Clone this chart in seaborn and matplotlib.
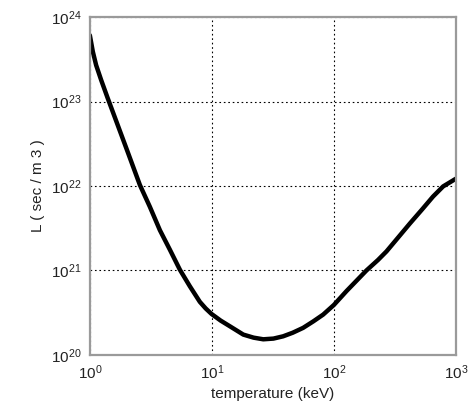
import matplotlib
matplotlib.use("Agg")
import matplotlib.pyplot as plt
import seaborn as sns
import pandas as pd

# Values (temperature in keV, L in sec/m^3)
temperature = [1.0, 1.058, 1.126, 1.238, 1.40, 1.54, 2.0, 2.57, 3.10, 3.75, 4.53,
               5.47, 6.6, 7.97, 8.9, 9.95, 11.8, 14.0, 18.1, 22.0, 26.4, 32.0,
               38.4, 46.0, 56.0, 68.0, 81.7, 100.0, 127.0, 185.0, 230.0, 270.0,
               340.0, 420.0, 530.0, 650.0, 787.0, 1000.0]
L_values = [6.1e23, 3.9e23, 2.7e23, 1.8e23, 1.1e23, 7.6e22, 2.75e22, 1.03e22, 5.7e21,
            3.0e21, 1.76e21, 1.02e21, 6.5e20, 4.25e20, 3.55e20, 3.05e20, 2.55e20,
            2.19e20, 1.74e20, 1.6e20, 1.53e20, 1.56e20, 1.66e20, 1.83e20, 2.09e20,
            2.5e20, 3.0e20, 3.9e20, 5.7e20, 1.0e21, 1.33e21, 1.68e21, 2.5e21,
            3.6e21, 5.3e21, 7.5e21, 9.9e21, 1.22e22]

df = pd.DataFrame({"temperature": temperature, "L": L_values})

sns.set_theme(style="white")
plt.rcParams["font.family"] = ["Liberation Sans", "DejaVu Sans"]
plt.rcParams["mathtext.fontset"] = "custom"
plt.rcParams["mathtext.rm"] = "Liberation Sans"

fig = plt.figure(figsize=(4.68, 4.19), dpi=100)
ax = fig.add_axes([0.192, 0.153, 0.782, 0.806])

sns.lineplot(data=df, x="temperature", y="L", ax=ax, color="black", linewidth=3.2,
             sort=False, estimator=None)
ax.lines[0].set_solid_joinstyle("round")
ax.lines[0].set_solid_capstyle("round")

ax.set_xscale("log")
ax.set_yscale("log")
ax.set_xlim(1, 1000)
ax.set_ylim(1e20, 1e24)
ax.set_xticks([1, 10, 100, 1000])
ax.set_yticks([1e20, 1e21, 1e22, 1e23, 1e24])
ax.minorticks_off()

ax.grid(True, which="major", color="black", linestyle=(0, (1.5, 2.5)), linewidth=0.8)
for s in ax.spines.values():
    s.set_color("#9a9a9a")
    s.set_linewidth(1.6)

ax.tick_params(axis="both", which="major", direction="in", length=3, width=0.8,
               color="#555555", labelsize=11, pad=6, labelcolor="#222222")

ax.set_xlabel("temperature (keV)", fontsize=11, color="#222222", labelpad=4)
ax.set_ylabel("L ( sec / m 3 )", fontsize=11, color="#222222", labelpad=4)

fig.savefig("out.png", dpi=100)
